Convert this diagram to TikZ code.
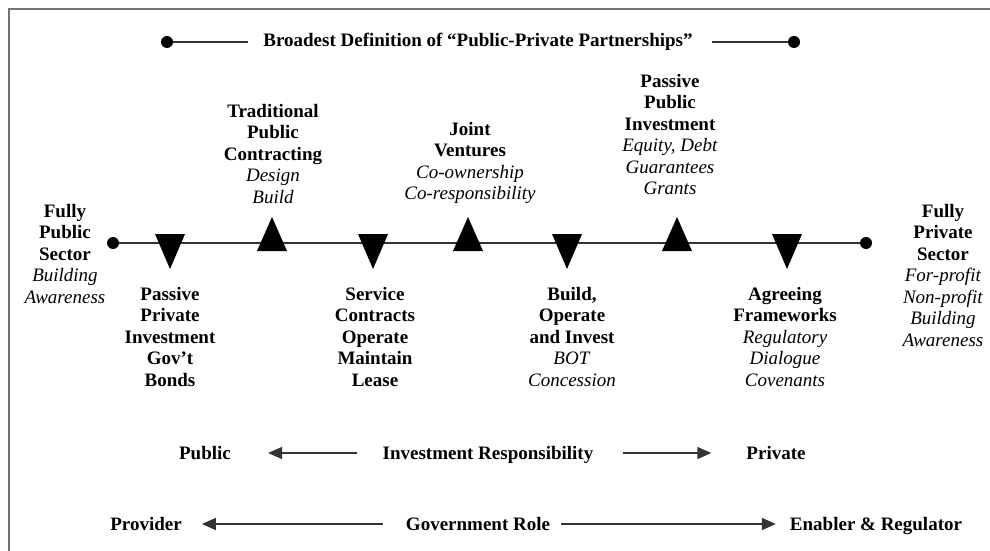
\documentclass[tikz,border=0pt]{standalone}
\usepackage{fontspec}
\setmainfont{Liberation Serif}
\usetikzlibrary{arrows.meta}

\newcommand{\triDown}[1]{ (#1-15, \yAxis-9) -- (#1+15, \yAxis-9) -- (#1, \yAxis+26) -- cycle }
\newcommand{\triUp}[1]{ (#1-15, \yAxis+8) -- (#1+15, \yAxis+8) -- (#1, \yAxis-26) -- cycle }

\begin{document}
\begin{tikzpicture}[x = 1pt, y = -1pt,
	lbl/.style = {align = center, inner sep = 0pt, anchor = north,
		font = \fontsize{19}{21.5}\selectfont\bfseries},
	axislbl/.style = {inner sep = 0pt, anchor = base,
		font = \fontsize{19}{21.5}\selectfont\bfseries},
	scaleline/.style = {line width = 1.6pt, black!80},
	roleline/.style = {line width = 1.6pt, black!80, -{Triangle[length=14pt, width=12pt]}},
]
	\def \yAxis {243};
	\def \yTop {42};

	\useasboundingbox (0,0) rectangle (990,551);

%frame
	\draw[line width = 2pt, black!55] (9,560) -- (9,9) -- (1000,9);

%broadest definition
	\node[axislbl, anchor = center] (broadest) at (478,\yTop) {Broadest Definition of “Public-Private Partnerships”};
	\coordinate (DotOneTop) at (167,\yTop);
	\coordinate (DotTwoTop) at (794,\yTop);
	\draw[scaleline, shorten > = 15pt] (DotOneTop) -- (broadest.west |- DotOneTop);
	\draw[scaleline, shorten < = 19pt] (broadest.east |- DotTwoTop) -- (DotTwoTop);
	\fill (DotOneTop) circle (6pt);
	\fill (DotTwoTop) circle (6pt);

%main scale
	\coordinate (PubEnd) at (113,\yAxis);
	\coordinate (PrivEnd) at (866,\yAxis);
	\draw[scaleline] (PubEnd) -- (PrivEnd);
	\fill (PubEnd) circle (6pt);
	\fill (PrivEnd) circle (6pt);

	\fill \triDown{170};
	\fill \triUp{272};
	\fill \triDown{373};
	\fill \triUp{468};
	\fill \triDown{567};
	\fill \triUp{677};
	\fill \triDown{787};

%end labels
	\node[lbl] (fullypublic) at (65,204) {Fully\\Public\\Sector\\\textit{\mdseries Building}\\\textit{\mdseries Awareness}};
	\node[lbl] (fullyprivate) at (943,204) {Fully\\Private\\Sector\\\textit{\mdseries For-profit}\\\textit{\mdseries Non-profit}\\\textit{\mdseries Building}\\\textit{\mdseries Awareness}};

%labels above
	\node[lbl] (traditional) at (273,104) {Traditional\\Public\\Contracting\\\textit{\mdseries Design}\\\textit{\mdseries Build}};
	\node[lbl] (joint) at (470,122) {Joint\\Ventures\\\textit{\mdseries Co-ownership}\\\textit{\mdseries Co-responsibility}};
	\node[lbl] (passivepublic) at (670,74) {Passive\\Public\\Investment\\\textit{\mdseries Equity, Debt}\\\textit{\mdseries Guarantees}\\\textit{\mdseries Grants}};

%labels below
	\node[lbl] (passiveprivate) at (170,287) {Passive\\Private\\Investment\\Gov’t\\Bonds};
	\node[lbl] (service) at (375,287) {Service\\Contracts\\Operate\\Maintain\\Lease};
	\node[lbl] (boi) at (572,287) {Build,\\Operate\\and Invest\\\textit{\mdseries BOT}\\\textit{\mdseries Concession}};
	\node[lbl] (agreeing) at (785,287) {Agreeing\\Frameworks\\\textit{\mdseries Regulatory}\\\textit{\mdseries Dialogue}\\\textit{\mdseries Covenants}};

%investment responsibility
	\node[axislbl] (public) at (205,459) {Public};
	\node[axislbl] (invresp) at (488,459) {Investment Responsibility};
	\node[axislbl] (private) at (776,459) {Private};
	\coordinate (InvRow) at (0,453);
	\draw[roleline, shorten < = 26pt, shorten > = 37pt] (invresp.west |- InvRow) -- (public.east |- InvRow);
	\draw[roleline, shorten < = 29pt, shorten > = 35pt] (invresp.east |- InvRow) -- (private.west |- InvRow);

%government role
	\node[axislbl] (provider) at (146,530) {Provider};
	\node[axislbl] (govrole) at (478,530) {Government Role};
	\node[axislbl] (enabler) at (876,530) {Enabler \& Regulator};
	\coordinate (GovRow) at (0,524);
	\draw[roleline, shorten < = 23pt, shorten > = 20pt] (govrole.west |- GovRow) -- (provider.east |- GovRow);
	\draw[roleline, shorten < = 11pt, shorten > = 14pt] (govrole.east |- GovRow) -- (enabler.west |- GovRow);
\end{tikzpicture}
\end{document}
